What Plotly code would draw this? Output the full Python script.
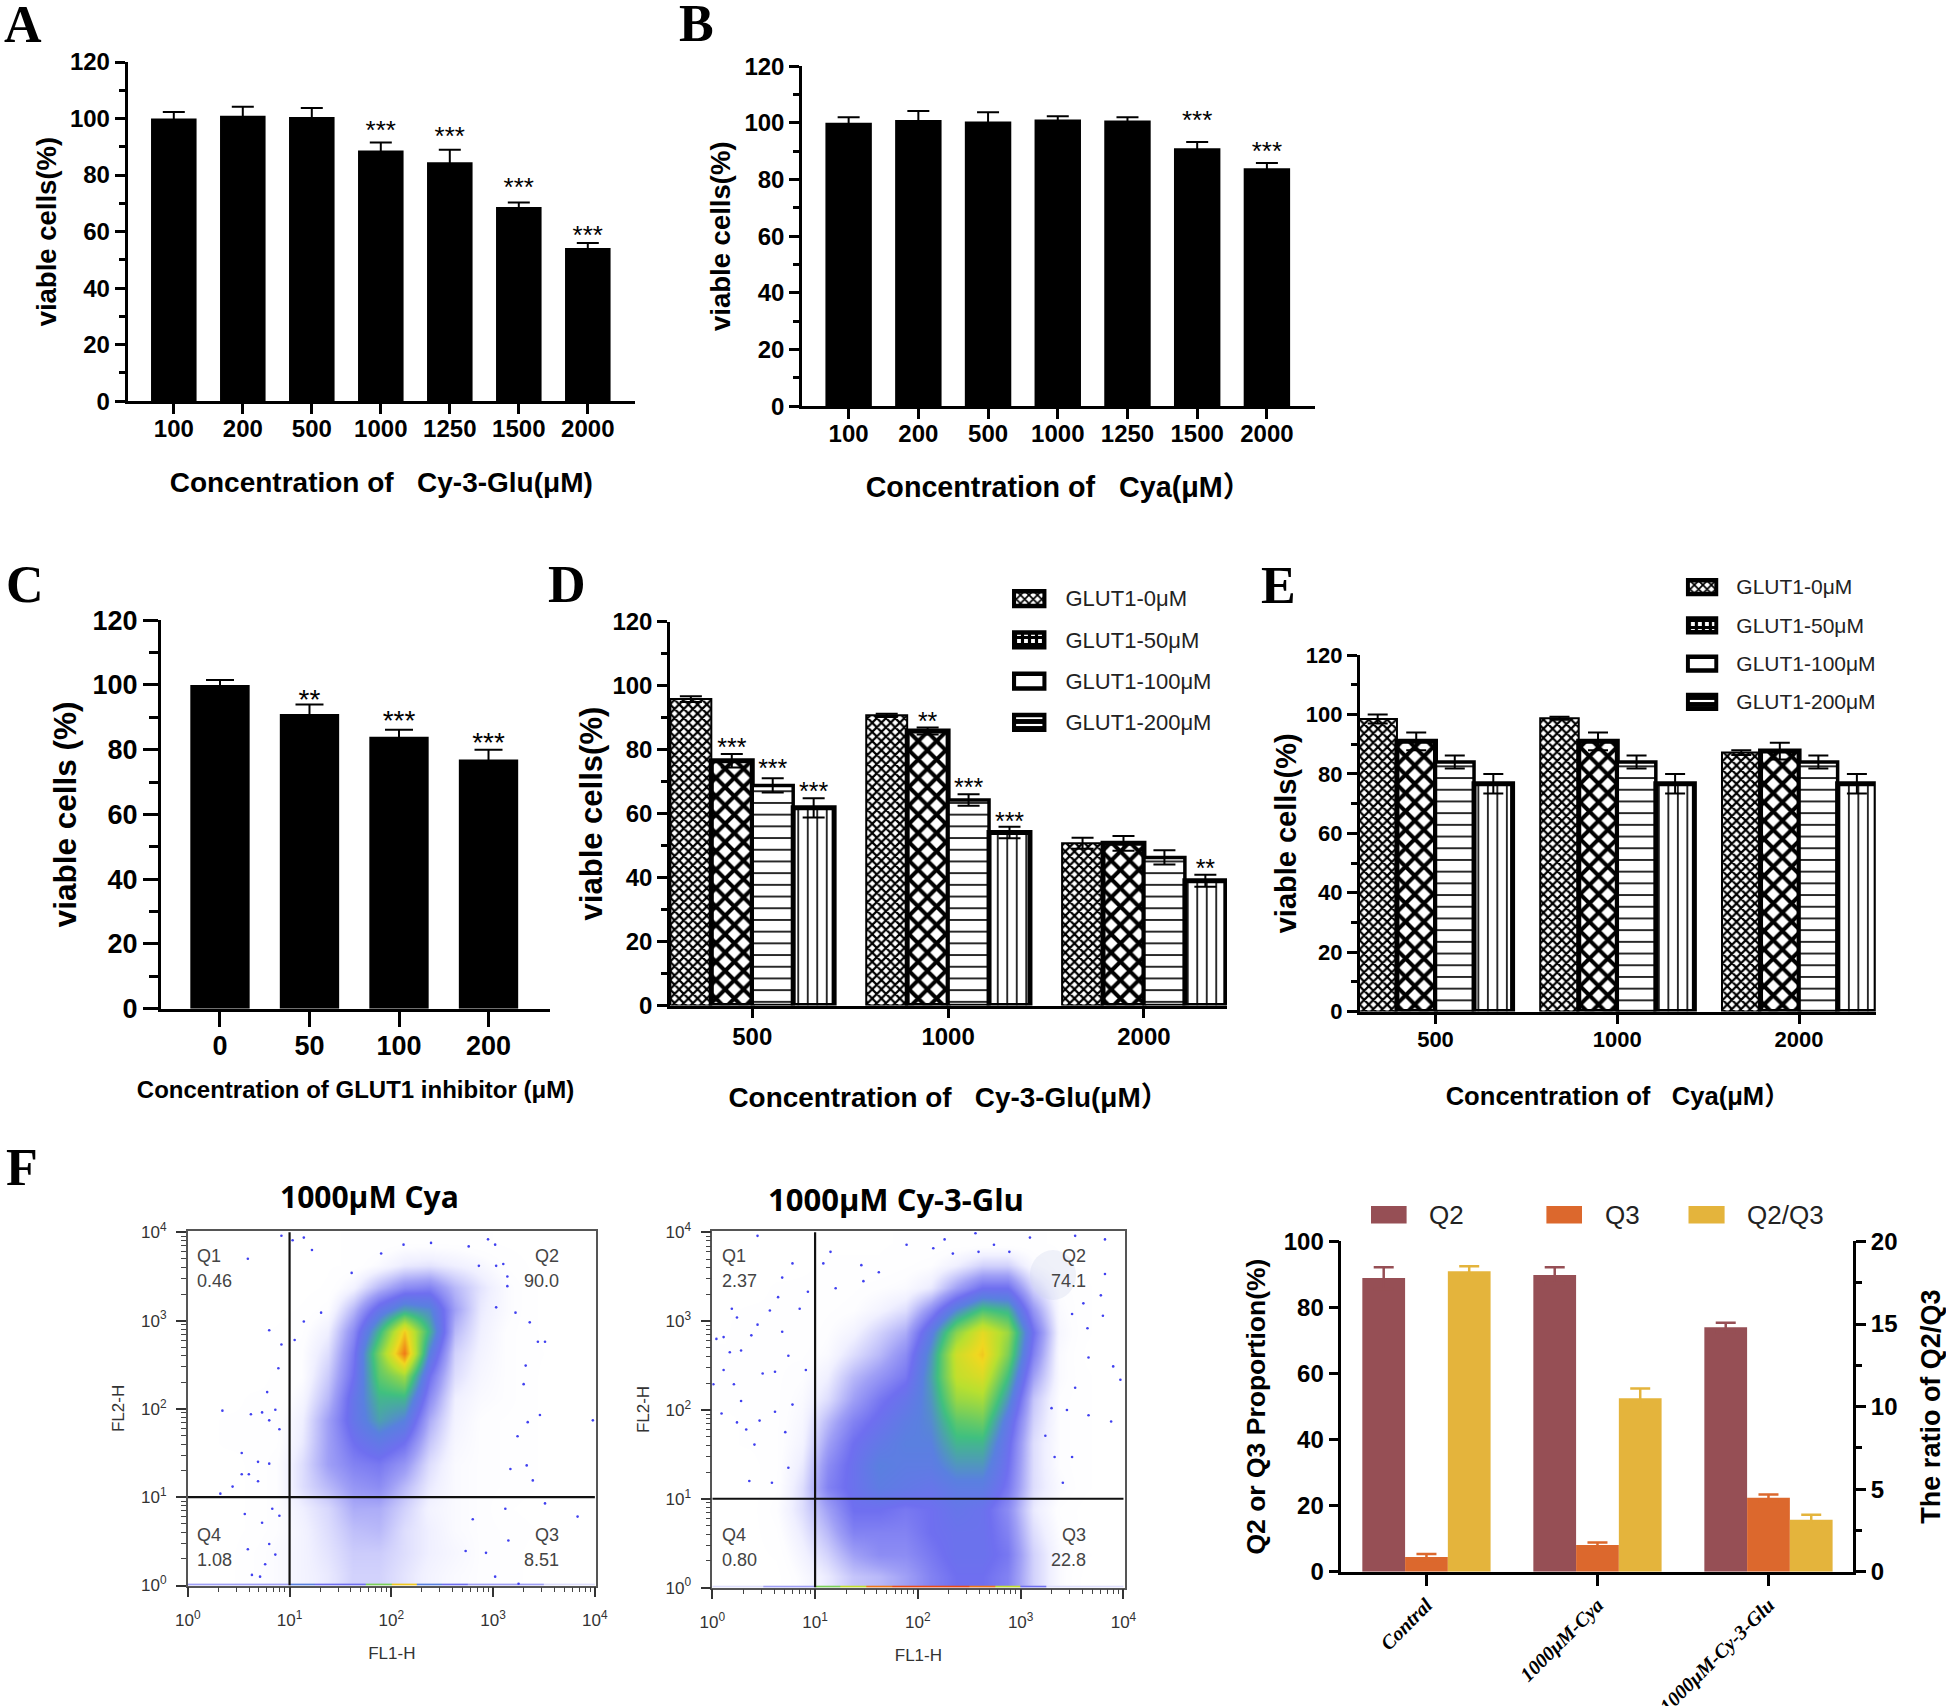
import plotly.graph_objects as go

W, H = 1946, 1706
SANS = "Liberation Sans, Arial, Noto Sans CJK SC"
SERIF = "Liberation Serif, Times New Roman"
NB = "\u00a0"

# ---------- data ----------
conc_7 = ["100", "200", "500", "1000", "1250", "1500", "2000"]
a_values = [100, 101, 100.5, 88.7, 84.5, 68.7, 54.2]
a_errors = [2.3, 3.2, 3.2, 2.8, 4.5, 1.6, 1.8]
a_star_idx = [3, 4, 5, 6]
a_star_y = [97.1, 95, 76.8, 59.9]
a_star_txt = ["***", "***", "***", "***"]

b_values = [100, 101, 100.5, 101.2, 100.8, 91, 84]
b_errors = [2, 3.2, 3.2, 1.1, 1.2, 2.2, 1.8]
b_star_idx = [5, 6]
b_star_y = [102, 91.1]
b_star_txt = ["***", "***"]

c_cats = ["0", "50", "100", "200"]
c_values = [100, 91, 84, 77]
c_errors = [1.5, 3, 2.2, 3]
c_star_idx = [1, 2, 3]
c_star_y = [96.8, 90.3, 83.3]
c_star_txt = ["**", "***", "***"]

group_cats = ["500", "1000", "2000"]
glut_names = ["GLUT1-0μM", "GLUT1-50μM", "GLUT1-100μM", "GLUT1-200μM"]
d_values = [[95.8, 90.7, 50.7], [76.5, 85.8, 50.7], [68.8, 64.2, 46.3], [61.8, 54.1, 39.0]]
d_errors = [[0.9, 0.5, 1.7], [2.1, 1.1, 2.3], [2.2, 1.8, 2.2], [3.0, 1.8, 1.9]]
d_star_group = [0, 0, 0, 1, 1, 1, 2]
d_star_series = [1, 2, 3, 1, 2, 3, 3]
d_star_y = [81.8, 75.3, 68.2, 90.1, 69.4, 58.9, 44]
d_star_txt = ["***", "***", "***", "**", "***", "***", "**"]

e_values = [[98.5, 98.8, 87.2], [91, 91, 87.7], [84, 84, 84], [76.7, 76.7, 76.7]]
e_errors = [[1.5, 0.5, 0.8], [3, 3, 2.8], [2.2, 2.2, 2.2], [3.3, 3.3, 3.3]]

f_cats = ["Contral", "1000μM-Cya", "1000μM-Cy-3-Glu"]
f_q2 = [88.9, 89.8, 74]
f_q2_err = [3.3, 2.4, 1.4]
f_q3 = [4.5, 8.1, 22.4]
f_q3_err = [0.9, 0.8, 1.0]
f_ratio = [18.2, 10.5, 3.15]
f_ratio_err = [0.3, 0.6, 0.3]

flow_edges_log = [0, .25, .5, .75, 1, 1.25, 1.5, 1.75, 2, 2.25, 2.5, 2.75, 3, 3.25, 3.5, 3.75, 4]

cya_density = [
    [0, 0, .2, .4, .6, .8, 1.2, 1.2, .9, .6, .4, .3, .2, 0, 0, 0],
    [0, 0, .2, .4, .6, .9, 1.3, 1.3, 1, .7, .5, .3, .2, 0, 0, 0],
    [0, 0, .1, .3, .6, 1, 1.5, 1.6, 1, .7, .4, .3, .2, .1, 0, 0],
    [0, 0, .1, .3, .7, 1.1, 1.8, 1.8, 1.2, .6, .4, .3, .1, 0, 0, 0],
    [0, 0, .1, .3, 1, 1.6, 2.2, 2.4, 1.6, .8, .4, .3, .2, .1, 0, 0],
    [0, 0, .1, .3, 1, 2, 2.6, 2.8, 2.2, 1, .4, .3, .2, .1, 0, 0],
    [0, .1, .1, .2, .8, 2, 3, 3.6, 3, 1.4, .5, .3, .2, .1, 0, 0],
    [0, .1, .1, .2, .7, 2, 3.4, 4.6, 4, 1.8, .6, .3, .2, .1, 0, 0],
    [0, 0, .1, .1, .5, 1.6, 3.4, 5, 5, 2.4, .7, .4, .3, .1, 0, 0],
    [0, 0, 0, .1, .3, 1.3, 3, 5.6, 6.5, 3, 1, .5, .3, .1, 0, 0],
    [0, 0, 0, .1, .3, 1, 2.8, 6, 9, 4, 1.2, .6, .3, .1, .05, 0],
    [0, 0, 0, .1, .2, .7, 2.4, 5, 8, 5, 1.6, .7, .3, .1, 0, 0],
    [0, 0, 0, 0, .1, .3, 1.6, 3.4, 4.6, 4.2, 2, .8, .4, .1, 0, 0],
    [0, 0, 0, 0, 0, .1, .6, 1.6, 2.4, 2.6, 1.6, .9, .4, .1, 0, 0],
    [0, 0, 0, 0, 0, .05, .1, .4, .8, .9, .7, .5, .2, .05, 0, 0],
    [0, 0, 0, 0, 0, .05, .1, .1, .2, .2, .2, .1, .05, 0, 0, 0],
]
cya_edge_row = [2, 2, 2, 2, 4, 3, 3, 6, 8, 4, 3, 2, 2, 2, 1, 1]
cya_dots_lx = [.59, .92, .8, .92, .89, .78, .34, .62, .73, .86, .8, .9, .53, .69, .8, .53, .6, .69, .44, .32,
               3.51, 3.36, 3.44, 3.32, 3.3, 3.46, 3.34, 3.24, 3.33, 3.39, 3.17, 3.83, 3.98, 3.51, 3.03, 2.95,
               3.02, 2.76, 2.86, 3.1, 3.14, 3.22, 3.03, 3.14, 2.12, 2.39, 1.9, 1.22, 1.03, 1.14, 1.61, 1.31,
               1.14, 1.05, 3.15, 3.12, 2.8, 2.93, 2.73, 3.02, 3.25,
               .56, .73, .8, .59, .86, .76, .63, .71, .9, .83]
cya_dots_ly = [3.7, 3.96, 2.89, 2.73, 2.46, 2.19, 1.98, 1.94, 1.96, 1.99, 1.87, 1.77, 1.5, 1.4, 1.38, 1.26, 1.26, 1.18, 1.12, 1.04,
               2.76, 2.98, 2.76, 2.49, 2.28, 1.93, 1.85, 1.69, 1.36, 1.19, 1.32, .78, 1.87, .93, 3.62, 3.92,
               3.86, 3.84, 3.62, 3.64, 3.5, 3.09, 3.15, 3.39, 3.86, 3.88, 3.76, 3.8, 3.91, 3.94, 3.54, 3.09,
               2.99, 2.78, .51, .87, .75, .37, .39, .1, .02,
               .81, .71, .47, .41, .35, .24, .12, .1, .79, .87]

glu_density = [
    [0, 0, 0, .4, .8, 1.4, 1.6, 2, 2.6, 3, 3, 2.6, 1.2, .4, 0, 0],
    [0, 0, .1, .6, 1.2, 2, 2.4, 2.4, 2.8, 3.2, 3.2, 2.8, 1.2, .4, .1, 0],
    [0, 0, .2, .8, 1.6, 2.6, 2.6, 2.6, 3, 3.2, 3.2, 2.6, 1, .3, 0, 0],
    [0, 0, .3, 1, 2, 3, 3, 2.8, 3, 3.4, 3.2, 2.4, .8, .2, 0, 0],
    [0, 0, .2, 1, 2.6, 3.2, 3.8, 3.6, 3.4, 3.8, 3.8, 2.8, 1, .4, .1, 0],
    [0, 0, .2, .8, 2.4, 3.2, 4, 3.8, 3.8, 4.4, 4.4, 3, 1, .3, .1, 0],
    [.05, .1, .2, .6, 2, 3, 3.6, 4, 4, 5, 5, 3.2, 1, .3, .1, 0],
    [.05, .1, .2, .5, 1.6, 2.6, 3.2, 3.8, 4.2, 5.6, 5.8, 3.6, 1.2, .3, .1, 0],
    [.1, .1, .2, .4, 1, 2, 2.8, 3.4, 4.4, 6.4, 6.6, 4.4, 1.4, .3, .1, 0],
    [.1, .2, .2, .3, .7, 1.6, 2.2, 2.8, 4.6, 7, 7.4, 5.2, 2, .4, .1, 0],
    [.1, .2, .2, .2, .4, 1, 1.6, 2.4, 4.4, 7.2, 8, 6, 2.6, .4, .05, 0],
    [.05, .2, .2, .1, .3, .6, 1.2, 1.8, 3.8, 6.2, 7.6, 6.4, 3, .5, .1, 0],
    [.05, .1, .1, .1, .2, .3, .6, 1, 2.4, 4.2, 5.4, 5, 2.2, .4, .1, 0],
    [0, 0, .1, .1, .1, .2, .3, .4, .8, 2, 3, 3, 1.2, .3, .1, 0],
    [0, .05, 0, .05, .1, .1, .1, .2, .3, .7, 1.2, 1.2, .4, .1, .05, 0],
    [0, .05, 0, 0, .05, .05, .05, .1, .1, .1, .1, .1, .1, .05, .05, 0],
]
glu_edge_row = [1, 1, 2, 2, 6, 7, 9, 9.5, 9.5, 9.5, 9, 7, 3, 1, 1, 1]
glu_dots_lx = [.44, .78, .68, .64, .93, .56, .19, .85, .44, .24, .04, .11, .28, .17, .38, .68, .74, .11, .01, .21,
               .49, .61, .91, .28, .46, .33, .09, .24, .41, .61, .71, .78, .36, .58, .74,
               1.15, 1.08, 1.45, 1.62, 1.47, 1.2, 1.89, 2.15, 2.26, 2.56, 2.34, 2.59, 2.74, 2.89, 3.09, 3.53,
               3.82, 3.82, 3.78, 3.8, 3.65, 3.9, 3.97, 3.66, 3.88, 3.66, 3.45, 3.3, 3.53, 3.41, 3.5, 3.33, 3.24, 3.61, 3.5]
glu_dots_ly = [3.96, 3.65, 3.49, 3.27, 3.33, 3.12, 3.14, 3.14, 2.96, 3.04, 2.8, 2.82, 2.67, 2.65, 2.84, 2.88, 2.61, 2.45, 2.29, 2.29,
               2.41, 2.43, 2.45, 2.1, 1.88, 1.78, 1.96, 1.86, 1.61, 1.98, 1.75, 2.06, 1.2, 1.18, 1.35,
               3.78, 3.65, 3.63, 3.55, 3.45, 3.37, 3.86, 3.82, 3.92, 3.99, 3.76, 3.78, 3.86, 3.78, 3.94, 3.96,
               3.92, 3.53, 3.29, 3.06, 2.92, 2.49, 2.34, 2.59, 1.87, 1.94, 2, 2.02, 2.25, 1.18, 1.47, 1.47, 1.71, 3.2, 3.08]

# ---------- styles ----------
density_scale = [[0, "#ffffff"], [.03, "#fdfdff"], [.07, "#f0f0ff"], [.12, "#d2d2fc"], [.2, "#a0a0f6"], [.3, "#6f6ff0"], [.4, "#5a80e0"],
                 [.52, "#40c080"], [.68, "#b8e030"], [.78, "#f0d820"], [.9, "#f07818"], [1, "#e82010"]]
patterns = [dict(shape="x", size=6.5, solidity=.55), dict(shape="x", size=13, solidity=.52),
            dict(shape="-", size=11.7, solidity=.14), dict(shape="|", size=9.5, solidity=.17)]
pattern_line = [2, 5, 3.5, 5]
legend_patterns = [dict(shape="x", size=6, solidity=.5), dict(shape="+", size=7, solidity=.7),
                   dict(shape="", size=6, solidity=.2), dict(shape="-", size=7, solidity=.7)]

fig = go.Figure()
layout = dict(width=W, height=H, margin=dict(l=0, r=0, t=0, b=0, autoexpand=False), paper_bgcolor="white", plot_bgcolor="rgba(0,0,0,0)",
              showlegend=False, font=dict(family=SANS, color="black"))
annotations, shapes = [], []
n_ax = [0]


def new_axes(left, right, top, bottom):
    n_ax[0] += 1
    n = n_ax[0]
    xk, yk = f"xaxis{n}", f"yaxis{n}"
    layout[xk] = dict(domain=[left / W, right / W], anchor=f"y{n}", showgrid=False, zeroline=False, automargin=False)
    layout[yk] = dict(domain=[1 - bottom / H, 1 - top / H], anchor=f"x{n}", showgrid=False, zeroline=False, automargin=False)
    return n, xk, yk


def bar_panel(rect, xrange, cats, tick_size, ttl_size_y, ttl_size_x, ytitle, xtitle, y_stand, x_stand, label_stand,
              tick_len=10, minor_len=6, line_w=2.5):
    n, xk, yk = new_axes(*rect)
    layout[xk].update(range=xrange, tickvals=list(range(len(cats))), ticktext=cats, showline=True, linewidth=line_w, linecolor="black",
                      ticks="outside", ticklen=tick_len, tickwidth=line_w, tickcolor="black",
                      tickfont=dict(family=SANS, size=tick_size, weight=700), ticklabelstandoff=label_stand,
                      title=dict(text=xtitle, font=dict(family=SANS, size=ttl_size_x, weight=700), standoff=x_stand))
    layout[yk].update(range=[0, 120], tickvals=[0, 20, 40, 60, 80, 100, 120], showline=True, linewidth=line_w, linecolor="black",
                      ticks="outside", ticklen=tick_len, tickwidth=line_w, tickcolor="black",
                      minor=dict(dtick=10, ticks="outside", ticklen=minor_len, tickwidth=line_w, tickcolor="black", showgrid=False),
                      tickfont=dict(family=SANS, size=tick_size, weight=700),
                      title=dict(text=ytitle, font=dict(family=SANS, size=ttl_size_y, weight=700), standoff=y_stand))
    return n


def stars(n, xs, ys, txt, size=26, drop=2.0):
    fig.add_trace(go.Scatter(x=xs, y=[v - drop for v in ys], text=txt, mode="text", textposition="middle center",
                             textfont=dict(family=SANS, size=size, color="black"), xaxis=f"x{n}", yaxis=f"y{n}",
                             cliponaxis=False, hoverinfo="skip"))


def black_bars(n, cats, vals, errs, width, cap):
    fig.add_trace(go.Bar(x=list(range(len(cats))), y=vals, width=width, marker=dict(color="black", line=dict(width=0)),
                         error_y=dict(type="data", array=errs, visible=True, color="black", thickness=2, width=cap),
                         xaxis=f"x{n}", yaxis=f"y{n}"))


def hatched_bars(n, cats, names, vals, errs, w, cap):
    for s, name in enumerate(names):
        fig.add_trace(go.Bar(x=list(range(len(cats))), y=vals[s], name=name, width=w, offset=(s - 2) * w,
                             marker=dict(color="white", line=dict(color="black", width=pattern_line[s]),
                                         pattern=dict(fgcolor="black", bgcolor="white", fillmode="replace", **patterns[s])),
                             error_y=dict(type="data", array=errs[s], visible=True, color="black", thickness=2, width=cap),
                             xaxis=f"x{n}", yaxis=f"y{n}"))


def swatch_legend(rect, names, label_size, standoff):
    n, xk, yk = new_axes(*rect)
    layout[xk].update(range=[-.06, 1.06], visible=False)
    layout[yk].update(range=[3.5, -.5], side="right", tickvals=list(range(len(names))), ticktext=names, showline=False, ticks="",
                      tickfont=dict(family=SANS, size=label_size, color="#222"), ticklabelstandoff=standoff)
    fig.add_trace(go.Bar(y=list(range(len(names))), x=[1] * len(names), orientation="h", width=.36,
                         marker=dict(color="white", line=dict(color="black", width=4.5),
                                     pattern=dict(fgcolor="black", bgcolor="white", fillmode="replace",
                                                  shape=[p["shape"] for p in legend_patterns],
                                                  size=[p["size"] for p in legend_patterns],
                                                  solidity=[p["solidity"] for p in legend_patterns])),
                         xaxis=f"x{n}", yaxis=f"y{n}", hoverinfo="skip"))


# ---------- panel A ----------
n = bar_panel((127.5, 635, 62, 401.2), [-.671, 6.684], conc_7, 24, 27.5, 28, "viable cells(%)",
              f"Concentration of{NB*3}Cy-3-Glu(μM)", 6, 32, -6)
black_bars(n, conc_7, a_values, a_errors, .66, 11)
stars(n, a_star_idx, a_star_y, a_star_txt)

# ---------- panel B ----------
n = bar_panel((802, 1315, 66.1, 406.3), [-.669, 6.69], conc_7, 24, 27.5, 28.7, "viable cells(%)",
              f"Concentration of{NB*3}Cya(μM）", 6, 32, -6)
black_bars(n, conc_7, b_values, b_errors, .666, 11)
stars(n, b_star_idx, b_star_y, b_star_txt)

# ---------- panel C ----------
n = bar_panel((161, 550, 620.2, 1008.7), [-.659, 3.687], c_cats, 27, 31.5, 24, "viable cells (%)",
              "Concentration of GLUT1 inhibitor (μM)", 7, 22, -4, tick_len=15, minor_len=9, line_w=3)
black_bars(n, c_cats, c_values, c_errors, .663, 14)
stars(n, c_star_idx, c_star_y, c_star_txt, size=28)

# ---------- panel D ----------
n = bar_panel((670, 1227, 621.6, 1005.5), [-.42, 2.424], group_cats, 24, 31, 27.9, "viable cells(%)",
              f"Concentration of{NB*3}Cy-3-Glu(μM）", 1, 39, -2)
hatched_bars(n, group_cats, glut_names, d_values, d_errors, .209, 11)
d_w = .209
stars(n, [g + (s - 1.5) * d_w for g, s in zip(d_star_group, d_star_series)], d_star_y, d_star_txt, size=25)
swatch_legend((1012, 1046.5, 578, 743), glut_names, 22, 18)

# ---------- panel E ----------
n = bar_panel((1359.6, 1875.8, 655.2, 1011.5), [-.4175, 2.422], group_cats, 22, 29, 25.6, "viable cells(%)",
              f"Concentration of{NB*3}Cya(μM）", 1, 37, -4)
hatched_bars(n, group_cats, glut_names, e_values, e_errors, .212, 10)
swatch_legend((1685.9, 1718.3, 568, 721), glut_names, 21, 17)


# ---------- flow panels ----------
def flow_panel(rect, density, edge_row, dots_lx, dots_ly, xlabel_stand, ylabel_stand):
    n, xk, yk = new_axes(*rect)
    decades = [1, 10, 100, 1000, 10000]
    dec_txt = ["10<sup>0</sup>", "10<sup>1</sup>", "10<sup>2</sup>", "10<sup>3</sup>", "10<sup>4</sup>"]
    minor_vals = [m * 10 ** d for d in range(4) for m in range(2, 10)]
    common = dict(type="log", range=[0, 4.01], tickvals=decades, ticktext=dec_txt, showline=True, mirror=True, linewidth=1.6, linecolor="#555",
                  ticks="outside", ticklen=10, tickwidth=1.6, tickcolor="#333",
                  minor=dict(tickvals=minor_vals, ticks="outside", ticklen=5, tickwidth=1.2, tickcolor="#444", showgrid=False),
                  tickfont=dict(family=SANS, size=17, color="#333"))
    layout[xk].update(**common, ticklabelstandoff=8, title=dict(text="FL1-H", font=dict(family=SANS, size=17, color="#333"), standoff=xlabel_stand))
    layout[yk].update(**common, ticklabelstandoff=6, title=dict(text="FL2-H", font=dict(family=SANS, size=17, color="#333"), standoff=ylabel_stand))
    edges = [10 ** v for v in flow_edges_log]
    fig.add_trace(go.Heatmap(x=edges, y=edges, z=density, zmin=0, zmax=10, colorscale=density_scale, zsmooth="best",
                             showscale=False, xaxis=f"x{n}", yaxis=f"y{n}", hoverinfo="skip"))
    fig.add_trace(go.Heatmap(x=edges, y=[1, 1.05], z=[edge_row], zmin=0, zmax=10, colorscale=density_scale,
                             showscale=False, xaxis=f"x{n}", yaxis=f"y{n}", hoverinfo="skip"))
    fig.add_trace(go.Scatter(x=[10 ** v for v in dots_lx], y=[10 ** v for v in dots_ly], mode="markers",
                             marker=dict(color="#4040f0", size=2.6), xaxis=f"x{n}", yaxis=f"y{n}", hoverinfo="skip"))
    fig.add_trace(go.Scatter(x=[10, 10, None, 1, 10000], y=[1, 10000, None, 10, 10], mode="lines",
                             line=dict(color="#111", width=2.2), xaxis=f"x{n}", yaxis=f"y{n}", hoverinfo="skip"))


flow_panel((187.8, 595.9, 1231.4, 1585.5), cya_density, cya_edge_row, cya_dots_lx, cya_dots_ly, 18, 12)
flow_panel((712.3, 1124.5, 1231.4, 1587.6), glu_density, glu_edge_row, glu_dots_lx, glu_dots_ly, 18, 12)

# pale smudge near the Q2 label of the Cy-3-Glu plot
shapes.append(dict(type="circle", xref="paper", yref="paper", x0=1030 / W, x1=1076 / W, y0=1 - 1300 / H, y1=1 - 1250 / H,
                   fillcolor="rgba(205,212,236,0.3)", line=dict(width=0)))

# ---------- panel F bars ----------
n, xk, yk = new_axes(1341.3, 1853.3, 1241.4, 1571.8)
layout[xk].update(range=[-.498, 2.496], tickvals=[0, 1, 2], ticktext=f_cats, showline=True, linewidth=2.5, linecolor="black",
                  ticks="outside", ticklen=11, tickwidth=2.5, tickcolor="black", tickangle=-45,
                  tickfont=dict(family=SERIF, size=20, style="italic", weight=700))
layout[yk].update(range=[0, 100], dtick=20, showline=True, linewidth=2.5, linecolor="black", ticks="outside", ticklen=10, tickwidth=2.5,
                  tickcolor="black", tickfont=dict(family=SANS, size=24, weight=700),
                  title=dict(text="Q2 or Q3 Proportion(%)", font=dict(family=SANS, size=26.5, weight=700), standoff=11))
layout["yaxis99"] = dict(domain=layout[yk]["domain"], overlaying=f"y{n}", side="right", anchor=f"x{n}", range=[0, 20], dtick=5,
                         showgrid=False, zeroline=False, showline=True, linewidth=2.5, linecolor="black", ticks="outside", ticklen=10,
                         tickwidth=2.5, tickcolor="black",
                         minor=dict(dtick=2.5, ticks="outside", ticklen=6, tickwidth=2.5, tickcolor="black", showgrid=False),
                         tickfont=dict(family=SANS, size=24, weight=700),
                         title=dict(text="The ratio of Q2/Q3", font=dict(family=SANS, size=27, weight=700), standoff=27))
f_w = .25
for s, (nm, vals, errs, col, ya) in enumerate([("Q2", f_q2, f_q2_err, "#964F55", f"y{n}"), ("Q3", f_q3, f_q3_err, "#DC682D", f"y{n}"),
                                               ("Q2/Q3", f_ratio, f_ratio_err, "#E4B43C", "y99")]):
    fig.add_trace(go.Bar(x=[0, 1, 2], y=vals, name=nm, width=f_w, offset=(s - 1.5) * f_w, marker=dict(color=col, line=dict(width=0)),
                         error_y=dict(type="data", array=errs, visible=True, color=col, thickness=2.5, width=10),
                         xaxis=f"x{n}", yaxis=ya))


def paper_text(px, py, text, size, family=SANS, color="black", anchor="left", weight=400):
    annotations.append(dict(xref="paper", yref="paper", x=px / W, y=1 - py / H, text=text, showarrow=False, xanchor=anchor, yanchor="middle",
                            font=dict(family=family, size=size, color=color, weight=weight)))


# F legend
for x0, x1, col, lbl, tx in [(1371, 1406.6, "#964F55", "Q2", 1427), (1546.4, 1582, "#DC682D", "Q3", 1603), (1688.5, 1724.6, "#E4B43C", "Q2/Q3", 1744.5)]:
    shapes.append(dict(type="rect", xref="paper", yref="paper", x0=x0 / W, x1=x1 / W, y0=1 - 1223.6 / H, y1=1 - 1206 / H, fillcolor=col, line=dict(width=0)))
    paper_text(tx, 1214.5, lbl, 26, color="#222")

# panel letters
for lbl, px, py in [("A", 2, 24), ("B", 677, 23), ("C", 4, 584), ("D", 546, 584), ("E", 1259, 585), ("F", 4, 1167)]:
    paper_text(px, py, lbl, 52, family=SERIF, weight=700)

# flow titles and quadrant labels
paper_text(369.5, 1196, "1000μM Cya", 30, family="Open Sans", anchor="center", weight=700)
paper_text(895.5, 1199, "1000μM Cy-3-Glu", 31, family="Open Sans", anchor="center", weight=700)
for lft, rgt, q in [(194.7, 561, ("0.46", "90.0", "1.08", "8.51")), (719.5, 1088, ("2.37", "74.1", "0.80", "22.8"))]:
    paper_text(lft, 1255.8, "Q1", 18, color="#444")
    paper_text(lft, 1281, q[0], 18, color="#444")
    paper_text(rgt, 1255.8, "Q2", 18, color="#444", anchor="right")
    paper_text(rgt, 1281, q[1], 18, color="#444", anchor="right")
    paper_text(lft, 1535, "Q4", 18, color="#444")
    paper_text(lft, 1560, q[2], 18, color="#444")
    paper_text(rgt, 1535, "Q3", 18, color="#444", anchor="right")
    paper_text(rgt, 1560, q[3], 18, color="#444", anchor="right")

layout["annotations"] = annotations
layout["shapes"] = shapes
fig.update_layout(**layout)
fig.write_html("out.html", config=dict(displayModeBar=False), post_script="document.body.style.margin='0';")
